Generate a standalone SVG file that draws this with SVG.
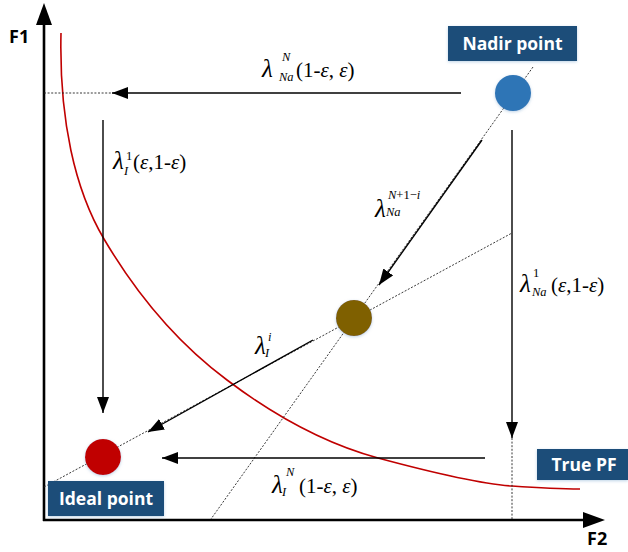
<svg xmlns="http://www.w3.org/2000/svg" width="628" height="552" viewBox="0 0 628 552">
<style>
.ax{stroke:#000;stroke-width:2.6;fill:none}
.ar{stroke:#000;stroke-width:1.4;fill:none;marker-end:url(#ah)}
.dot{stroke:#222;stroke-width:0.9;stroke-dasharray:2 1.6;fill:none}
.pf{stroke:#C00000;stroke-width:1.6;fill:none}
.box{fill:#1F4E79}
.bl{font-family:"Open Sans","Liberation Sans",sans-serif;font-weight:bold;font-size:17.5px;fill:#fff;text-anchor:middle}
.ax-l{font-family:"Open Sans","Liberation Sans",sans-serif;font-weight:bold;font-size:18px;fill:#000}
.m{font-family:"Liberation Serif","DejaVu Serif",serif;font-size:21px;fill:#000}
.lam{font-family:"Liberation Serif","DejaVu Serif",serif;font-size:25px;font-style:italic;fill:#000}
.s{font-family:"Liberation Serif","DejaVu Serif",serif;font-size:12.5px;font-style:italic;fill:#000}
.i{font-style:italic}
</style>
<defs>
<marker id="ah" markerUnits="userSpaceOnUse" markerWidth="18" markerHeight="14" refX="16" refY="6" orient="auto">
<path d="M0,0 L16,6 L0,12 Z" fill="#000"/>
</marker>
<filter id="sh" x="-30%" y="-30%" width="160%" height="160%">
<feDropShadow dx="0" dy="1" stdDeviation="1.5" flood-color="#7fa7cf" flood-opacity="0.5"/>
</filter>
</defs>

<g id="axes">
<line class="ax" x1="44" y1="521" x2="44" y2="24"/>
<path d="M36,25 L44,3 L52,25 Z" fill="#000"/>
<line class="ax" x1="43" y1="520" x2="585" y2="520"/>
<path d="M583,512 L605,520 L583,528 Z" fill="#000"/>
<text class="ax-l" x="9" y="43">F1</text>
<text class="ax-l" x="587" y="545">F2</text>
</g>

<g id="true-pf-curve">
<path class="pf" d="M61,33 C59,120 75,190 104,239 C140,300 180,345 227,380 C280,420 330,445 378,458 C430,472 480,484 512,486 C540,488 560,489 580,489"/>
</g>

<g id="connectors">
<line class="dot" x1="44" y1="93" x2="112" y2="93"/>
<line class="dot" x1="533" y1="67" x2="211" y2="519"/>
<line class="dot" x1="44" y1="487" x2="512" y2="233"/>
<line class="dot" x1="512" y1="438" x2="512" y2="519"/>
<line class="ar" x1="461" y1="93" x2="112" y2="93"/>
<line class="ar" x1="103" y1="120" x2="103" y2="413"/>
<line class="ar" x1="482" y1="140" x2="379" y2="285"/>
<line class="ar" x1="313" y1="340" x2="148" y2="432"/>
<line class="ar" x1="512" y1="130" x2="512" y2="438"/>
<line class="ar" x1="485" y1="458" x2="162" y2="458"/>
</g>

<g id="labels">
<text class="lam" x="262" y="77">λ</text>
<text class="s" x="282" y="61">N</text>
<text class="s" x="279" y="81">Na</text>
<text class="m" x="296" y="77">(1-<tspan class="i">ε</tspan>, <tspan class="i">ε</tspan>)</text>

<text class="lam" x="113" y="169">λ</text>
<text class="s" x="126" y="160" style="font-style:normal">1</text>
<text class="s" x="124" y="175">I</text>
<text class="m" x="133" y="169">(<tspan class="i">ε</tspan>,1-<tspan class="i">ε</tspan>)</text>

<text class="lam" x="375" y="217">λ</text>
<text class="s" x="388" y="199">N<tspan style="font-style:normal">+1−</tspan>i</text>
<text class="s" x="386" y="216">Na</text>

<text class="lam" x="520" y="292">λ</text>
<text class="s" x="533" y="277" style="font-style:normal">1</text>
<text class="s" x="532" y="296">Na</text>
<text class="m" x="551" y="292">(<tspan class="i">ε</tspan>,1-<tspan class="i">ε</tspan>)</text>

<text class="lam" x="255" y="354">λ</text>
<text class="s" x="268" y="341">i</text>
<text class="s" x="265" y="357">I</text>

<text class="lam" x="272" y="493">λ</text>
<text class="s" x="286" y="476">N</text>
<text class="s" x="282" y="496">I</text>
<text class="m" x="299" y="493">(1-<tspan class="i">ε</tspan>, <tspan class="i">ε</tspan>)</text>
</g>

<g id="nadir-point">
<rect class="box" x="448" y="26" width="129" height="35" filter="url(#sh)"/>
<text class="bl" x="512.5" y="50">Nadir point</text>
<circle cx="513" cy="93" r="18" fill="#2E75B6" filter="url(#sh)"/>
</g>

<g id="intermediate-point">
<circle cx="354" cy="318" r="18" fill="#7F6000" filter="url(#sh)"/>
</g>

<g id="ideal-point">
<circle cx="103" cy="457" r="18" fill="#C00000" filter="url(#sh)"/>
<rect class="box" x="48" y="481" width="116" height="35" filter="url(#sh)"/>
<text class="bl" x="106" y="505">Ideal point</text>
</g>

<g id="true-pf">
<rect class="box" x="537" y="449" width="91" height="31" filter="url(#sh)"/>
<text class="bl" x="584" y="471">True PF</text>
</g>
</svg>
